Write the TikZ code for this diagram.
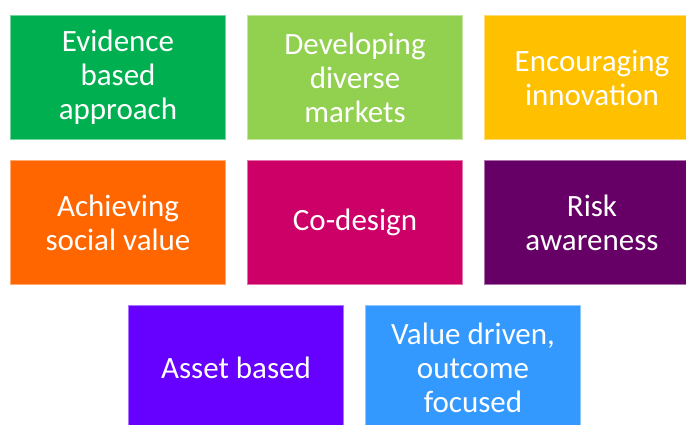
\documentclass[tikz,border=0pt]{standalone}
\usepackage{fontspec}
\setmainfont{Carlito}
\usetikzlibrary{positioning}
\definecolor{evgreen}{RGB}{0,176,80}
\definecolor{limegreen}{RGB}{146,208,80}
\definecolor{amber}{RGB}{255,192,0}
\definecolor{brightorange}{RGB}{255,102,0}
\definecolor{raspberry}{RGB}{204,0,102}
\definecolor{plum}{RGB}{102,0,102}
\definecolor{violet}{RGB}{102,0,255}
\definecolor{skyblue}{RGB}{51,153,255}

\tikzset{
  tile/.style={fill=#1,draw=#1!55!white,line width=0.8pt,
    minimum width=215.2pt,minimum height=124.2pt,inner sep=0pt,
    text=white,align=center,anchor=north west,
    font=\fontsize{31}{34}\selectfont}
}

\begin{document}
\begin{tikzpicture}[x=1pt,y=-1pt]
  \useasboundingbox (0,0) rectangle (686,424);
  \clip (0,0) rectangle (686,424);
  % top row
  \node[tile=evgreen] (evidence) at (10,15) {Evidence\\based\\approach};
  \node[tile=limegreen,right=21pt of evidence.north east,anchor=north west] (markets) {Developing\\diverse\\markets};
  \node[tile=amber,right=21pt of markets.north east,anchor=north west] (innovation) {Encouraging\\innovation};
  % middle row
  \node[tile=brightorange,below=20pt of evidence.south west,anchor=north west] (social) {Achieving\\social value};
  \node[tile=raspberry,below=20pt of markets.south west,anchor=north west] (codesign) {Co-design};
  \node[tile=plum,below=20pt of innovation.south west,anchor=north west] (risk) {Risk\\awareness};
  % bottom row
  \node[tile=violet] (asset) at (128,305) {Asset based};
  \node[tile=skyblue,right=21pt of asset.north east,anchor=north west] (value) {Value driven,\\outcome\\focused};
\end{tikzpicture}
\end{document}
